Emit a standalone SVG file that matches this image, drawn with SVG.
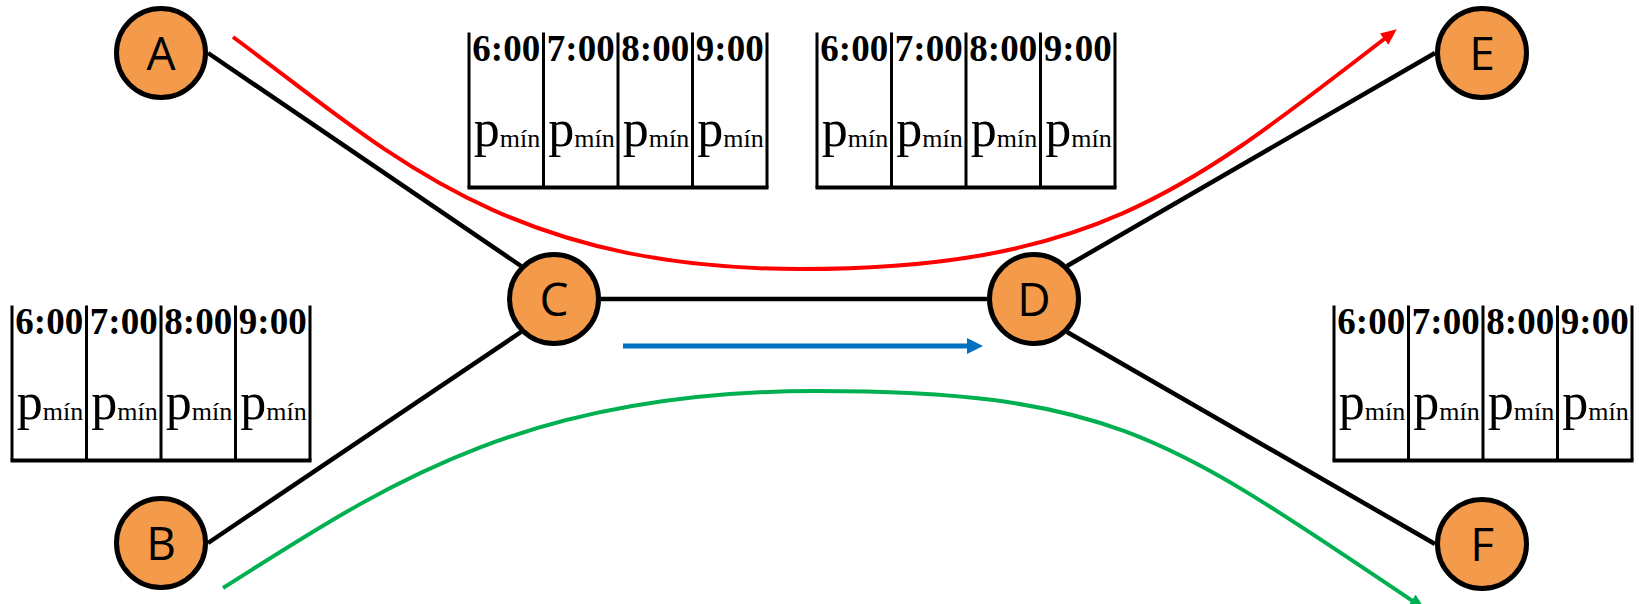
<svg xmlns="http://www.w3.org/2000/svg" width="1639" height="604" viewBox="0 0 1639 604">
  <style>
    .node circle { fill: #F39B4A; stroke: #000; stroke-width: 5; }
    .node text { font-family: "Open Sans", "DejaVu Sans", sans-serif; font-size: 46px; fill: #000; text-anchor: middle; }
    .link { stroke: #000; stroke-width: 4.5; fill: none; }
    .flow { fill: none; stroke-width: 4; }
    .grid { fill: none; stroke: #000; stroke-width: 3; }
    .base { fill: none; stroke: #000; stroke-width: 4; }
    .hdr { font-family: "Liberation Serif", "Times New Roman", serif; font-weight: bold; font-size: 37px; text-anchor: middle; fill: #000; }
    .val { font-family: "Liberation Serif", "Times New Roman", serif; text-anchor: middle; fill: #000; }
    .val tspan { font-family: "Liberation Serif", "Times New Roman", serif; font-weight: normal; }
    .big { font-size: 52px; }
    .sub { font-size: 26px; }
  </style>
  <defs>
    <marker id="headRed" markerUnits="userSpaceOnUse" markerWidth="16" markerHeight="14" refX="10" refY="7" orient="auto">
      <path d="M0,0 L16,7 L0,14 z" fill="#FF0000"/>
    </marker>
    <marker id="headGreen" markerUnits="userSpaceOnUse" markerWidth="16" markerHeight="14" refX="10" refY="7" orient="auto">
      <path d="M0,0 L16,7 L0,14 z" fill="#00B050"/>
    </marker>
    <marker id="headBlue" markerUnits="userSpaceOnUse" markerWidth="16" markerHeight="16" refX="9" refY="8" orient="auto">
      <path d="M0,0 L16,8 L0,16 z" fill="#0070C0"/>
    </marker>
    <!-- four-slot time table: open top, column rules and a base line -->
    <g id="slots">
      <path class="grid" d="M0,0 V155 M74.5,0 V155 M149,0 V155 M223.5,0 V155 M298,0 V155"/>
      <path class="base" d="M-1.5,155 H299.5"/>
      <text class="hdr" x="37.25" y="28.5">6:00</text>
      <text class="hdr" x="111.75" y="28.5">7:00</text>
      <text class="hdr" x="186.25" y="28.5">8:00</text>
      <text class="hdr" x="260.75" y="28.5">9:00</text>
      <text class="val" x="38" y="113"><tspan class="big">p</tspan><tspan class="sub" dy="1">mín</tspan></text>
      <text class="val" x="112.5" y="113"><tspan class="big">p</tspan><tspan class="sub" dy="1">mín</tspan></text>
      <text class="val" x="187" y="113"><tspan class="big">p</tspan><tspan class="sub" dy="1">mín</tspan></text>
      <text class="val" x="261.5" y="113"><tspan class="big">p</tspan><tspan class="sub" dy="1">mín</tspan></text>
    </g>
  </defs>

  <g id="tables">
    <use href="#slots" x="469" y="32.5"/>
    <use href="#slots" x="817" y="32.5"/>
    <use href="#slots" x="12" y="305.5"/>
    <use href="#slots" x="1334" y="305.5"/>
  </g>

  <g id="connectors">
    <line class="link" x1="208" y1="53" x2="521" y2="266"/>
    <line class="link" x1="208" y1="543" x2="521" y2="332"/>
    <line class="link" x1="601" y1="299" x2="987" y2="299"/>
    <line class="link" x1="1067" y1="266" x2="1435" y2="53"/>
    <line class="link" x1="1067" y1="332" x2="1435" y2="544"/>
    <path class="flow" stroke="#FF0000" marker-end="url(#headRed)" d="M233,37 C383,147 500,269 800,269 C1100,269 1194,185 1392,33"/>
    <path class="flow" stroke="#00B050" marker-end="url(#headGreen)" d="M223,588 C373,494 515,391 815,391 C1115,391 1171,439 1420,606"/>
    <line stroke="#0070C0" stroke-width="5" marker-end="url(#headBlue)" x1="623" y1="346" x2="976" y2="346"/>
  </g>

  <g id="A" class="node"><circle cx="161" cy="53" r="44.5"/><text x="161" y="69.5">A</text></g>
  <g id="B" class="node"><circle cx="161" cy="543" r="44.5"/><text x="161" y="559.5">B</text></g>
  <g id="C" class="node"><circle cx="554" cy="299" r="44.5"/><text x="554" y="315.5">C</text></g>
  <g id="D" class="node"><circle cx="1034" cy="299" r="44.5"/><text x="1034" y="315.5">D</text></g>
  <g id="E" class="node"><circle cx="1482" cy="53" r="44.5"/><text x="1482" y="69.5">E</text></g>
  <g id="F" class="node"><circle cx="1482" cy="544" r="44.5"/><text x="1482" y="560.5">F</text></g>
</svg>
